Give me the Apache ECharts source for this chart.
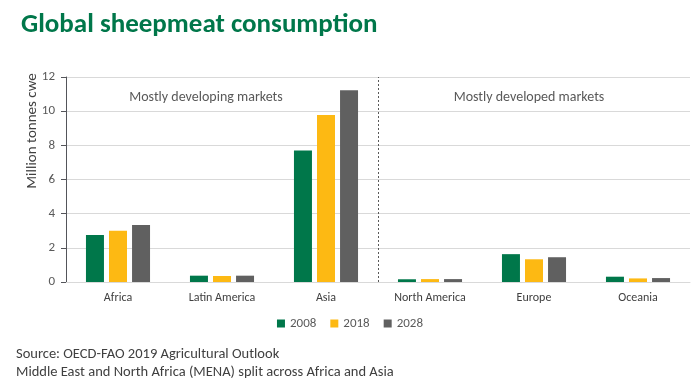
<!DOCTYPE html>
<html><head><meta charset="utf-8">
<script src="https://cdn.jsdelivr.net/npm/echarts@6/dist/echarts.min.js"></script>
<style>html,body{margin:0;padding:0;background:#fff}#c{width:700px;height:390px}</style>
</head><body><div id="c"></div>
<script>
const categories = ['Africa','Latin America','Asia','North America','Europe','Oceania'];
const seriesNames = ['2008','2018','2028'];
const v2008 = [2.75, 0.37, 7.7, 0.16, 1.63, 0.31];
const v2018 = [3.0, 0.35, 9.78, 0.17, 1.33, 0.21];
const v2028 = [3.33, 0.37, 11.22, 0.17, 1.45, 0.23];
const yTicks = [0, 2, 4, 6, 8, 10, 12];
const colors = ['#00774A', '#FDB913', '#606060'];
const font = 'Calibri, Carlito, Lato, "Open Sans", sans-serif';

const chart = echarts.init(document.getElementById('c'));
const values = [v2008, v2018, v2028];
const series = seriesNames.map((n, i) => ({
  name: n, type: 'bar', data: values[i], barWidth: 18, barGap: '28%',
  itemStyle: { color: colors[i] }
}));
series.push({
  type: 'line', xAxisIndex: 1, data: [], silent: true,
  markLine: { symbol: 'none', silent: true, label: { show: false },
    lineStyle: { type: [2, 2], color: '#595959', width: 1 },
    data: [{ xAxis: 3 }] }
});
chart.setOption({
  animation: false,
  textStyle: { fontFamily: font },
  title: {
    text: 'Global sheepmeat consumption', left: 16, top: 7,
    textStyle: { color: '#00774A', fontSize: 27, fontWeight: 'bold', fontFamily: font }
  },
  grid: { left: 66, right: 10, top: 77, bottom: 108, containLabel: false },
  legend: {
    data: seriesNames, bottom: 55, left: 'center', icon: 'rect', itemWidth: 8, itemHeight: 8, itemGap: 14,
    textStyle: { color: '#595959', fontSize: 13, fontFamily: font }
  },
  xAxis: [{
    type: 'category', data: categories,
    axisLine: { lineStyle: { color: '#d9d9d9' } }, axisTick: { show: false },
    axisLabel: { color: '#404040', fontSize: 12, margin: 10, fontFamily: font }
  }, {
    type: 'value', min: 0, max: 6, show: false
  }],
  yAxis: {
    type: 'value', min: 0, max: 12, interval: 2,
    axisLabel: { color: '#595959', fontSize: 13, margin: 11, fontFamily: font,
      formatter: v => yTicks.includes(v) ? String(v) : '' },
    splitLine: { lineStyle: { color: '#d9d9d9' } }
  },
  graphic: [
    { type: 'text', left: 16, top: 347, style: { text: 'Source: OECD-FAO 2019 Agricultural Outlook', fill: '#404040', font: '14.5px ' + font } },
    { type: 'text', left: 16, top: 365, style: { text: 'Middle East and North Africa (MENA) split across Africa and Asia', fill: '#404040', font: '14.5px ' + font } },
    { type: 'text', x: 32, y: 131, rotation: Math.PI / 2, style: { text: 'Million tonnes cwe', fill: '#404040', font: '15px ' + font, textAlign: 'center', textVerticalAlign: 'middle' } },
    { type: 'text', x: 206, y: 97, style: { text: 'Mostly developing markets', fill: '#595959', font: '14px ' + font, textAlign: 'center', textVerticalAlign: 'middle' } },
    { type: 'text', x: 529, y: 97, style: { text: 'Mostly developed markets', fill: '#595959', font: '14px ' + font, textAlign: 'center', textVerticalAlign: 'middle' } }
  ],
  series: series
});
</script></body></html>
